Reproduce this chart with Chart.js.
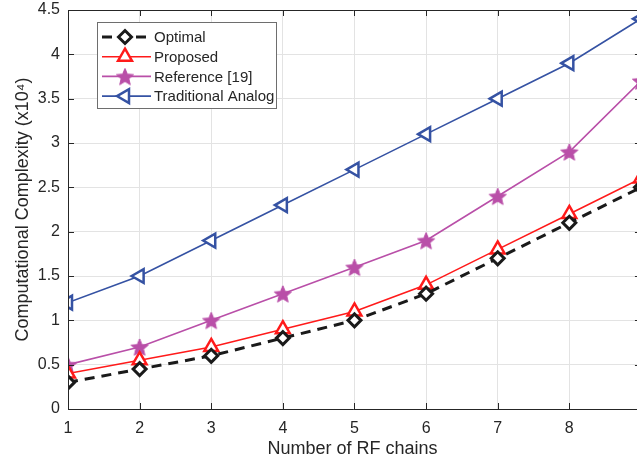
<!DOCTYPE html>
<html lang="en">
<head>
  <meta charset="UTF-8" />
  <title>Computational Complexity</title>
  <script src="https://cdn.jsdelivr.net/npm/chart.js"></script>
  <style>
    html, body { margin: 0; padding: 0; background: #fff; overflow: hidden; }
    .wrap { width: 637px; height: 460px; }
  </style>
</head>
<body>
  <div class="wrap"><canvas id="cc" width="637" height="460"></canvas></div>

  <script>
    // data (x10^4)
    const rfChains = [1, 2, 3, 4, 5, 6, 7, 8, 9];
    const optimal = [0.3, 0.45, 0.6, 0.8, 1.0, 1.3, 1.7, 2.1, 2.5];
    const proposed = [0.4, 0.55, 0.7, 0.9, 1.1, 1.4, 1.8, 2.2, 2.6];
    const reference19 = [0.5, 0.7, 1.0, 1.3, 1.6, 1.9, 2.4, 2.9, 3.7];
    const tradAnalog = [1.2, 1.5, 1.9, 2.3, 2.7, 3.1, 3.5, 3.9, 4.4];
    const yTicks = [0, 0.5, 1, 1.5, 2, 2.5, 3, 3.5, 4, 4.5];
    // the figure is cropped just before the x = 9 axis edge
    const xVisibleMax = 8.945;

    const FONT = "'Liberation Sans', Arial, sans-serif";
    const TXT = "#262626";

    function toXY(arr) {
      return arr.map((v, i) => ({ x: rfChains[i], y: v }));
    }

    // filled five point star for Reference [19]
    function makeStar(color, r) {
      const c = document.createElement("canvas");
      const s = Math.ceil(r * 2 + 4);
      c.width = s; c.height = s;
      const g = c.getContext("2d");
      g.beginPath();
      for (let i = 0; i < 10; i++) {
        const rad = i % 2 === 0 ? r : r * 0.45;
        const a = -Math.PI / 2 + i * Math.PI / 5;
        const px = s / 2 + rad * Math.cos(a), py = s / 2 + 1 + rad * Math.sin(a);
        if (i === 0) g.moveTo(px, py); else g.lineTo(px, py);
      }
      g.closePath();
      g.fillStyle = color;
      g.fill();
      g.strokeStyle = color;
      g.lineWidth = 1;
      g.stroke();
      return c;
    }

    const starImg = makeStar("#b94fa8", 9);

    const datasets = [
      {
        label: "Optimal", data: toXY(optimal),
        borderColor: "#1a1a1a", borderWidth: 3, borderDash: [10, 7],
        pointStyle: "rectRot", pointRadius: 6.5, pointBorderWidth: 3,
        pointBackgroundColor: "#fff", pointBorderColor: "#1a1a1a"
      },
      {
        label: "Proposed", data: toXY(proposed),
        borderColor: "#ff1a1a", borderWidth: 1.6,
        pointStyle: "triangle", pointRadius: 8, pointBorderWidth: 2.5,
        pointBackgroundColor: "#fff", pointBorderColor: "#ff1a1a"
      },
      {
        label: "Reference [19]", data: toXY(reference19),
        borderColor: "#b94fa8", borderWidth: 1.6,
        pointStyle: starImg, pointRadius: 8
      },
      {
        label: "Traditional Analog", data: toXY(tradAnalog),
        borderColor: "#3552a3", borderWidth: 1.6,
        pointStyle: "triangle", pointRotation: -90, pointRadius: 8, pointBorderWidth: 2.5,
        pointBackgroundColor: "#fff", pointBorderColor: "#3552a3"
      }
    ];

    // axes box with inward ticks + legend box, MATLAB style
    const framePlugin = {
      id: "frame",
      afterDatasetsDraw(chart) {
        const { ctx, chartArea: a, scales } = chart;
        const right = scales.x.getPixelForValue(9);
        ctx.save();
        ctx.strokeStyle = "#262626";
        ctx.lineWidth = 1;
        ctx.beginPath();
        ctx.moveTo(a.left + 0.5, a.top + 0.5);
        ctx.lineTo(right, a.top + 0.5);
        ctx.moveTo(a.left + 0.5, a.top);
        ctx.lineTo(a.left + 0.5, a.bottom + 0.5);
        ctx.lineTo(right, a.bottom + 0.5);
        ctx.moveTo(right - 0.5, a.top);
        ctx.lineTo(right - 0.5, a.bottom);
        rfChains.forEach(v => {
          const x = Math.round(scales.x.getPixelForValue(v)) + 0.5;
          ctx.moveTo(x, a.bottom); ctx.lineTo(x, a.bottom - 6);
          ctx.moveTo(x, a.top); ctx.lineTo(x, a.top + 6);
        });
        yTicks.forEach(v => {
          const y = Math.round(scales.y.getPixelForValue(v)) + 0.5;
          ctx.moveTo(a.left, y); ctx.lineTo(a.left + 6, y);
          ctx.moveTo(right, y); ctx.lineTo(right - 6, y);
        });
        ctx.stroke();

        // legend
        const bx = 97, by = 22, bw = 179, bh = 86;
        ctx.fillStyle = "#fff";
        ctx.fillRect(bx, by, bw, bh);
        ctx.strokeStyle = "#6e6e6e";
        ctx.lineWidth = 1;
        ctx.strokeRect(bx + 0.5, by + 0.5, bw, bh);
        ctx.font = "15px " + FONT;
        ctx.textBaseline = "middle";
        chart.data.datasets.forEach((ds, i) => {
          const y = by + 15 + i * 19.7;
          ctx.save();
          ctx.strokeStyle = ds.borderColor;
          ctx.lineWidth = ds.borderWidth;
          ctx.setLineDash(ds.borderDash || []);
          ctx.beginPath();
          ctx.moveTo(102, y); ctx.lineTo(151, y);
          ctx.stroke();
          ctx.restore();
          const meta = chart.getDatasetMeta(i);
          const opts = meta.data[0].options;
          ctx.save();
          ctx.fillStyle = opts.backgroundColor;
          ctx.strokeStyle = opts.borderColor;
          ctx.lineWidth = opts.borderWidth;
          Chart.helpers.drawPoint(ctx, {
            pointStyle: opts.pointStyle, rotation: opts.rotation,
            radius: opts.radius, borderWidth: opts.borderWidth
          }, 125, y);
          ctx.restore();
          ctx.fillStyle = TXT;
          ctx.fillText(ds.label, 154, y + 1);
        });
        ctx.restore();
      }
    };

    new Chart(document.getElementById("cc"), {
      type: "line",
      data: { datasets: datasets },
      options: {
        responsive: false,
        animation: false,
        layout: { autoPadding: false, padding: { top: 10, right: 0, left: 0, bottom: 0 } },
        plugins: { legend: { display: false }, tooltip: { enabled: false } },
        elements: { line: { tension: 0 } },
        scales: {
          x: {
            type: "linear", min: 1, max: xVisibleMax,
            grid: { color: "#e3e3e3", drawTicks: false },
            border: { display: false },
            afterBuildTicks: s => { s.ticks = rfChains.slice(0, 8).map(v => ({ value: v })); },
            ticks: {
              padding: 10, color: TXT,
              font: { family: FONT, size: 16 }
            },
            title: {
              display: true, text: "Number of RF chains", color: TXT,
              font: { family: FONT, size: 18 }, padding: { top: 3, bottom: 0 }
            },
            afterFit: s => { s.height = 51; s.paddingRight = 0; s.paddingLeft = 0; }
          },
          y: {
            min: 0, max: 4.5,
            grid: { color: "#e3e3e3", drawTicks: false },
            border: { display: false },
            afterBuildTicks: s => { s.ticks = yTicks.map(v => ({ value: v })); },
            ticks: {
              padding: 8, color: TXT,
              font: { family: FONT, size: 16 },
              callback: v => String(v)
            },
            title: {
              display: true, text: "Computational Complexity (x10⁴)", color: TXT,
              font: { family: FONT, size: 18 }, padding: { top: 12, bottom: 0 }
            },
            afterFit: s => { s.width = 68; s.paddingTop = 0; s.paddingBottom = 0; }
          }
        }
      },
      plugins: [framePlugin]
    });
  </script>
</body>
</html>
